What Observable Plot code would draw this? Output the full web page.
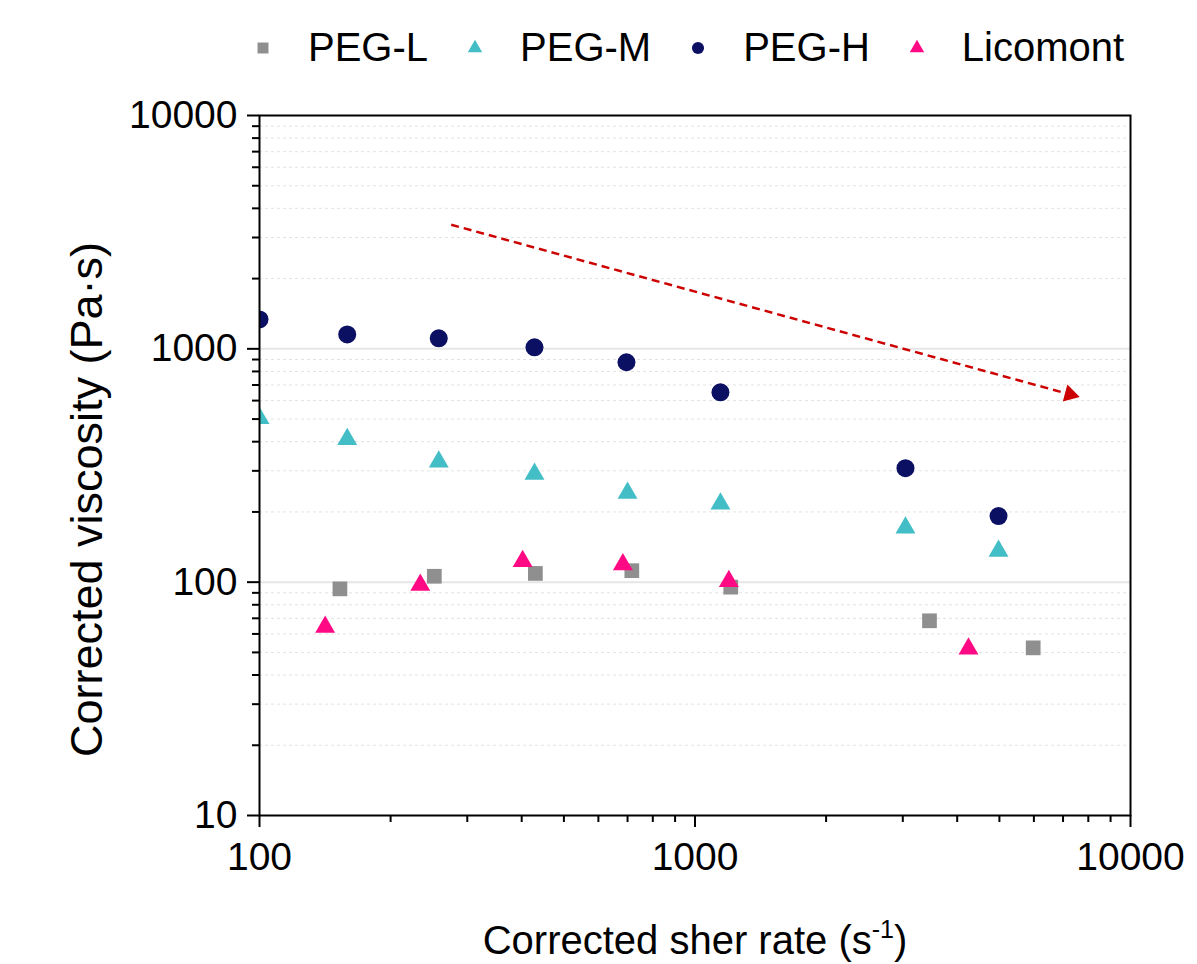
<!DOCTYPE html>
<html>
<head>
<meta charset="utf-8">
<script src="https://cdn.jsdelivr.net/npm/d3@7"></script>
<script src="https://cdn.jsdelivr.net/npm/@observablehq/plot@0.6"></script>
<style>
  body { margin: 0; background: #fff; font-family: "Liberation Sans", Arial, sans-serif; }
  #legend { height: 95px; display: flex; align-items: center; padding-left: 253px; font-size: 40px; color: #000; box-sizing: border-box; }
  #legend .item { display: flex; align-items: center; }
  #legend .lab { margin-left: 35px; margin-right: 37px; }
  #legend svg { display: block; }
</style>
</head>
<body>
<div id="legend"></div>
<div id="chart"></div>
<script>
// ---- Series definitions ----
const seriesNames   = ["PEG-L", "PEG-M", "PEG-H", "Licomont"];
const seriesColors  = ["#8f8f8f", "#44bec6", "#0b1063", "#ff0a84"];
const seriesSymbols = ["square", "triangle", "circle", "triangle"];
const seriesRadius  = [8.3, 7.4, 9.0, 7.4];
const legendSizes   = [120, 90, 115, 90];

// ---- Data (corrected shear rate, s^-1 ; corrected viscosity, Pa·s) ----
const pegLRate = [153, 252, 430, 716, 1208, 3455, 5978];
const pegLVisc = [93.6, 106, 109, 112, 95.2, 68.3, 52.3];

const pegMRate = [100, 159, 258, 428, 700, 1144, 3043, 4977];
const pegMVisc = [504, 410, 328, 291, 241, 217, 171, 136];

const pegHRate = [100, 159, 258, 428, 696, 1144, 3043, 4977];
const pegHVisc = [1337, 1153, 1109, 1015, 876, 651, 308, 192];

const licoRate = [141.5, 234, 402, 683, 1196, 4246];
const licoVisc = [64.3, 97.2, 123, 119, 101, 51.8];

// trend arrow (rate, viscosity)
const arrowFrom = [275.5, 3403];
const arrowTo   = [7261, 638];

// ---- Ticks ----
const xMajorTicks = [100, 1000, 10000];
const xMinorTicks = [200, 300, 400, 500, 600, 700, 800, 900, 2000, 3000, 4000, 5000, 6000, 7000, 8000, 9000];
const yMajorTicks = [10, 100, 1000, 10000];
const yMinorTicks = [20, 30, 40, 50, 60, 70, 80, 90, 200, 300, 400, 500, 600, 700, 800, 900, 2000, 3000, 4000, 5000, 6000, 7000, 8000, 9000];

// ---- Titles ----
const xTitleParts = ["Corrected sher rate (s", "-1", ")"];
const xTitle = xTitleParts.join("");
const yTitle = "Corrected viscosity (Pa·s)";

// ---- Build tables ----
const seriesData = [
  {rate: pegLRate, visc: pegLVisc},
  {rate: pegMRate, visc: pegMVisc},
  {rate: pegHRate, visc: pegHVisc},
  {rate: licoRate, visc: licoVisc}
].map((s, i) => s.rate.map((r, j) => ({series: seriesNames[i], rate: r, visc: s.visc[j]})));

const arrowRow = [{x1: arrowFrom[0], y1: arrowFrom[1], x2: arrowTo[0], y2: arrowTo[1]}];

const font = "Liberation Sans, Arial, sans-serif";

const chart = Plot.plot({
  width: 1197,
  height: 869,
  marginLeft: 259,
  marginRight: 67,
  marginTop: 20,
  marginBottom: 149,
  style: {fontFamily: font, fontSize: "38px", color: "#000", background: "#fff", overflow: "visible"},
  x: {type: "log", domain: [100, 10000]},
  y: {type: "log", domain: [10, 10000]},
  marks: [
    Plot.gridY(yMajorTicks.slice(1, -1), {stroke: "#e6e6e6", strokeOpacity: 1, strokeWidth: 2}),
    Plot.gridY(yMinorTicks, {stroke: "#e2e2e2", strokeOpacity: 1, strokeWidth: 1, strokeDasharray: "3,3"}),
    Plot.axisX(xMajorTicks, {tickSize: 12, tickPadding: 15, tickFormat: d => String(d), strokeWidth: 2, label: null, fontSize: 39, fontFamily: font}),
    Plot.axisX(xMinorTicks, {tickSize: 7, tickFormat: () => "", strokeWidth: 2, label: null}),
    Plot.axisY(yMajorTicks, {tickSize: 12, tickPadding: 10, tickFormat: d => String(d), strokeWidth: 2, label: null, fontSize: 39, fontFamily: font}),
    Plot.axisY(yMinorTicks, {tickSize: 7, tickFormat: () => "", strokeWidth: 2, label: null}),
    Plot.link(arrowRow, {x1: "x1", y1: "y1", x2: "x2", y2: "y2", stroke: "#cc0000", strokeWidth: 2.5, strokeDasharray: "8,5"}),
    Plot.dot(arrowRow, {x: "x2", y: "y2", symbol: "triangle", r: 6.5, fill: "#cc0000", rotate: 105.3}),
    ...seriesData.map((rows, i) => Plot.dot(rows, {
      x: "rate", y: "visc", symbol: seriesSymbols[i], r: seriesRadius[i],
      fill: seriesColors[i], clip: true
    })),
    Plot.frame({stroke: "#000", strokeWidth: 2}),
    Plot.text([xTitle], {text: d => d, frameAnchor: "bottom", lineAnchor: "bottom", textAnchor: "middle", dy: 138, fontSize: 40, fill: "#000", fontFamily: font}),
    Plot.text([yTitle], {text: d => d, frameAnchor: "left", lineAnchor: "bottom", textAnchor: "middle", rotate: -90, dx: -158, dy: 34, fontSize: 45, fill: "#000", fontFamily: font})
  ]
});

document.getElementById("chart").appendChild(chart);

// superscript in x title
d3.select(chart).selectAll("text")
  .filter(function () { return this.textContent === xTitle; })
  .each(function () {
    const t = d3.select(this);
    t.text(xTitleParts[0]);
    t.append("tspan").attr("font-size", 25).attr("dy", -16).text(xTitleParts[1]);
    t.append("tspan").attr("dy", 16).text(xTitleParts[2]);
  });

// legend
const symbolTypes = {square: d3.symbolSquare, triangle: d3.symbolTriangle, circle: d3.symbolCircle};
const legend = d3.select("#legend");
seriesNames.forEach((name, i) => {
  const item = legend.append("div").attr("class", "item");
  const s = item.append("svg").attr("width", 20).attr("height", 20);
  s.append("path")
    .attr("transform", "translate(10,10)")
    .attr("d", d3.symbol(symbolTypes[seriesSymbols[i]], legendSizes[i])())
    .attr("fill", seriesColors[i]);
  item.append("span").attr("class", "lab").text(name);
});
</script>
</body>
</html>
